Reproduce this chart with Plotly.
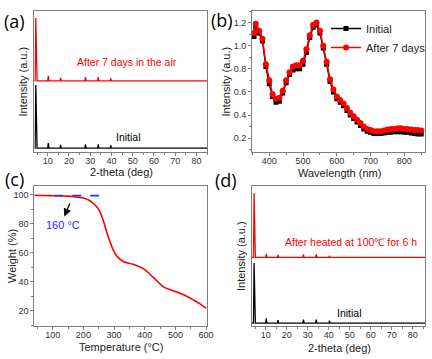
import plotly.graph_objects as go

# ---------------- data ----------------
# (a) XRD, normalized intensity, after 7 days in air vs initial
xrd_a_x = [3.7, 4.1, 4.4, 4.7, 4.8, 5.0, 10.0, 10.3, 10.6, 15.8, 16.1, 16.4, 27.5, 27.8, 28.1, 33.5, 33.8, 34.1, 39.4, 39.7, 40.0, 85.0]
xrd_a_init = [0, 0, 100, 0, 4, 0, 0, 8, 0, 0, 5, 0, 0, 6, 0, 0, 6, 0, 0, 4, 0, 0]
xrd_a_air = [0, 0, 100, 0, 4, 0, 0, 8, 0, 0, 5, 0, 0, 6, 0, 0, 6, 0, 0, 4, 0, 0]

# (b) absorption spectra
wl = [355, 360, 370, 380, 390, 400, 410, 420, 430, 440, 450, 460, 470, 480, 490, 500, 510, 520, 530, 540,
      550, 560, 570, 580, 590, 600, 610, 620, 630, 640, 650, 660, 670, 680, 690, 700, 710, 720, 730, 740,
      750, 760, 770, 780, 790, 800, 810, 820, 830, 840, 850]
abs_init = [1.08, 1.16, 1.11, 1.04, 0.82, 0.67, 0.56, 0.51, 0.52, 0.59, 0.68, 0.75, 0.79, 0.80, 0.80, 0.84, 0.94, 1.07, 1.16, 1.18,
            1.11, 0.98, 0.84, 0.69, 0.60, 0.54, 0.51, 0.48, 0.44, 0.40, 0.37, 0.34, 0.31, 0.28, 0.26, 0.25, 0.24, 0.24, 0.24, 0.245,
            0.25, 0.25, 0.255, 0.255, 0.255, 0.25, 0.25, 0.245, 0.24, 0.235, 0.235]
abs_7d = [1.11, 1.19, 1.13, 1.06, 0.84, 0.70, 0.58, 0.54, 0.55, 0.61, 0.70, 0.77, 0.82, 0.83, 0.83, 0.87, 0.97, 1.09, 1.18, 1.20,
          1.13, 1.00, 0.86, 0.71, 0.62, 0.56, 0.53, 0.50, 0.46, 0.42, 0.39, 0.36, 0.33, 0.30, 0.28, 0.27, 0.26, 0.26, 0.26, 0.265,
          0.275, 0.28, 0.28, 0.285, 0.285, 0.28, 0.28, 0.275, 0.27, 0.27, 0.265]

# (c) TGA
temp = [40, 60, 100, 150, 180, 200, 220, 242, 253, 265, 275, 286, 297, 310, 330, 362, 395, 428, 445, 461, 494, 527, 560, 580, 600]
weight = [99.6, 99.5, 99.3, 99.0, 98.3, 97.7, 96.0, 92.0, 88.6, 82.0, 75.0, 68.0, 62.0, 57.5, 54.0, 52.0, 49.0, 43.0, 39.5, 36.5, 33.7, 31.0, 27.3, 24.8, 21.8]
onset_temp = 160

# (d) XRD, after heating at 100 °C for 6 h vs initial
xrd_d_x = [3.5, 4.2, 4.5, 4.8, 4.9, 5.1, 10.0, 10.3, 10.6, 15.6, 15.9, 16.2, 27.7, 28.0, 28.3, 33.8, 34.1, 34.4, 40.1, 40.4, 40.7, 86.0]
xrd_d_init = [0, 0, 100, 0, 4, 0, 0, 8, 0, 0, 5, 0, 0, 6, 0, 0, 6, 0, 0, 4, 0, 0]
xrd_d_heat = [0, 0, 107, 0, 4, 0, 0, 6, 0, 0, 4, 0, 0, 5, 0, 0, 5, 0, 0, 3, 0, 0]

offset_a = 106.5
offset_d = 109.3

# ---------------- figure ----------------
W, H = 432, 359
FONT = "Liberation Sans, Arial, sans-serif"
RED = "#ff0000"
AX = "#7f7f7f"
TICKC = "#333333"

fig = go.Figure()

fig.add_trace(go.Scatter(x=xrd_a_x, y=xrd_a_init, mode="lines", line=dict(color="black", width=1.3),
                         xaxis="x", yaxis="y", showlegend=False))
fig.add_trace(go.Scatter(x=xrd_a_x, y=[v + offset_a for v in xrd_a_air], mode="lines", line=dict(color=RED, width=1.3),
                         xaxis="x", yaxis="y", showlegend=False))

fig.add_trace(go.Scatter(x=wl, y=abs_init, mode="lines+markers", name="Initial",
                         line=dict(color="black", width=1.5), marker=dict(symbol="square", size=5, color="black"),
                         xaxis="x2", yaxis="y2"))
fig.add_trace(go.Scatter(x=wl, y=abs_7d, mode="lines+markers", name="After 7 days",
                         line=dict(color=RED, width=1.5), marker=dict(symbol="circle", size=6, color=RED),
                         xaxis="x2", yaxis="y2"))

fig.add_trace(go.Scatter(x=temp, y=weight, mode="lines", line=dict(color=RED, width=1.6, shape="spline"),
                         xaxis="x3", yaxis="y3", showlegend=False))
fig.add_trace(go.Scatter(x=[105, 262], y=[99.3, 99.3], mode="lines", line=dict(color="#3030ff", width=1.8, dash="dash"),
                         xaxis="x3", yaxis="y3", showlegend=False))

fig.add_trace(go.Scatter(x=xrd_d_x, y=xrd_d_init, mode="lines", line=dict(color="black", width=1.3),
                         xaxis="x4", yaxis="y4", showlegend=False))
fig.add_trace(go.Scatter(x=xrd_d_x, y=[v + offset_d for v in xrd_d_heat], mode="lines", line=dict(color=RED, width=1.3),
                         xaxis="x4", yaxis="y4", showlegend=False))

dx_l = [34.3 / W, 207 / W]
dx_r = [252 / W, 425.3 / W]
dy_t = [1 - 152 / H, 1 - 11 / H]
dy_b = [1 - 326 / H, 1 - 186 / H]


def xax(domain, anchor, rng, dtick, minor_dtick):
    return dict(domain=domain, anchor=anchor, range=rng, showline=True, linecolor=AX, linewidth=1, mirror=True,
                ticks="outside", ticklen=3, tickcolor=AX, dtick=dtick, tick0=0, ticklabelstandoff=-3,
                minor=dict(ticks="outside", ticklen=2, tickcolor=AX, dtick=minor_dtick),
                tickfont=dict(size=9, color=TICKC, family=FONT), showgrid=False, zeroline=False)


def yax(domain, anchor, rng, show_ticks, dtick=None, minor_dtick=None, fmt=None):
    d = dict(domain=domain, anchor=anchor, range=rng, showline=True, linecolor=AX, linewidth=1, mirror=True,
             showgrid=False, zeroline=False)
    if show_ticks:
        d.update(ticks="outside", ticklen=3, tickcolor=AX, dtick=dtick, tick0=0,
                 minor=dict(ticks="outside", ticklen=2, tickcolor=AX, dtick=minor_dtick),
                 tickfont=dict(size=9, color=TICKC, family=FONT))
        if fmt:
            d.update(tickformat=fmt)
    else:
        d.update(showticklabels=False, ticks="")
    return d


fig.update_layout(
    width=W, height=H, margin=dict(l=0, r=0, t=0, b=0, autoexpand=False),
    paper_bgcolor="white", plot_bgcolor="white",
    font=dict(family=FONT),
    xaxis=xax(dx_l, "y", [3.7, 85], 10, 5),
    yaxis=yax(dy_t, "x", [-6.3, 217.5], False),
    xaxis2=xax(dx_r, "y2", [349, 862], 100, 50),
    yaxis2=yax(dy_t, "x2", [0.08, 1.3], True, 0.2, 0.1, ".1f"),
    xaxis3=xax(dx_l, "y3", [40, 603], 100, 50),
    yaxis3=yax(dy_b, "x3", [9.5, 106], True, 20, 10),
    xaxis4=xax(dx_r, "y4", [3.5, 86], 10, 5),
    yaxis4=yax(dy_b, "x4", [-4.7, 228], False),
    legend=dict(x=326 / W, y=1 - 14 / H, xanchor="left", yanchor="top", bgcolor="rgba(0,0,0,0)",
                font=dict(size=11, color="#222", family=FONT), tracegroupgap=0, itemwidth=30),
    showlegend=True,
)

ann = []
# panel letters
for txt, x, y in [("(a)", 14, 21), ("(b)", 222, 20), ("(c)", 14, 179), ("(d)", 226, 180)]:
    ann.append(dict(text=txt, x=x / W, y=1 - y / H, xref="paper", yref="paper", showarrow=False,
                    xanchor="center", yanchor="middle",
                    font=dict(size=18, color="black", family="Open Sans, Liberation Sans, sans-serif")))
# axis titles
for txt, x, y, ang in [("2-theta (deg)", 121, 171.5, 0), ("Wavelength (nm)", 339, 172.5, 0),
                       ("Temperature (°C)", 121, 347, 0), ("2-theta (deg)", 339, 347.5, 0),
                       ("Intensity (a.u.)", 22, 81.5, -90), ("Intensity (a.u.)", 225, 81.5, -90),
                       ("Weight (%)", 12, 256, -90), ("Intensity (a.u.)", 241, 256, -90)]:
    ann.append(dict(text=txt, x=x / W, y=1 - y / H, xref="paper", yref="paper", showarrow=False,
                    xanchor="center", yanchor="middle", textangle=ang,
                    font=dict(size=11, color="#222", family=FONT)))
# in-plot text
for txt, x, y, col in [("After 7 days in the air", 127, 62, RED), ("Initial", 128, 137, "black"),
                       ("After heated at 100℃ for 6 h", 351, 242, RED), ("Initial", 349, 313, "black")]:
    ann.append(dict(text=txt, x=x / W, y=1 - y / H, xref="paper", yref="paper", showarrow=False,
                    xanchor="center", yanchor="middle", font=dict(size=10.5, color=col, family=FONT)))
# TGA onset
ann.append(dict(text="", x=138, y=85.0, ax=158, ay=95.0, xref="x3", yref="y3", axref="x3", ayref="y3",
                showarrow=True, arrowhead=2, arrowsize=1.2, arrowwidth=1.3, arrowcolor="black"))
ann.append(dict(text=f"{onset_temp} °C", x=135, y=79.4, xref="x3", yref="y3", showarrow=False,
                xanchor="center", yanchor="middle", font=dict(size=11, color="#2a2aff", family=FONT)))
fig.update_layout(annotations=ann)

fig.write_html("out.html", config={"displayModeBar": False},
               post_script="document.body.style.margin='0';document.body.style.padding='0';")
